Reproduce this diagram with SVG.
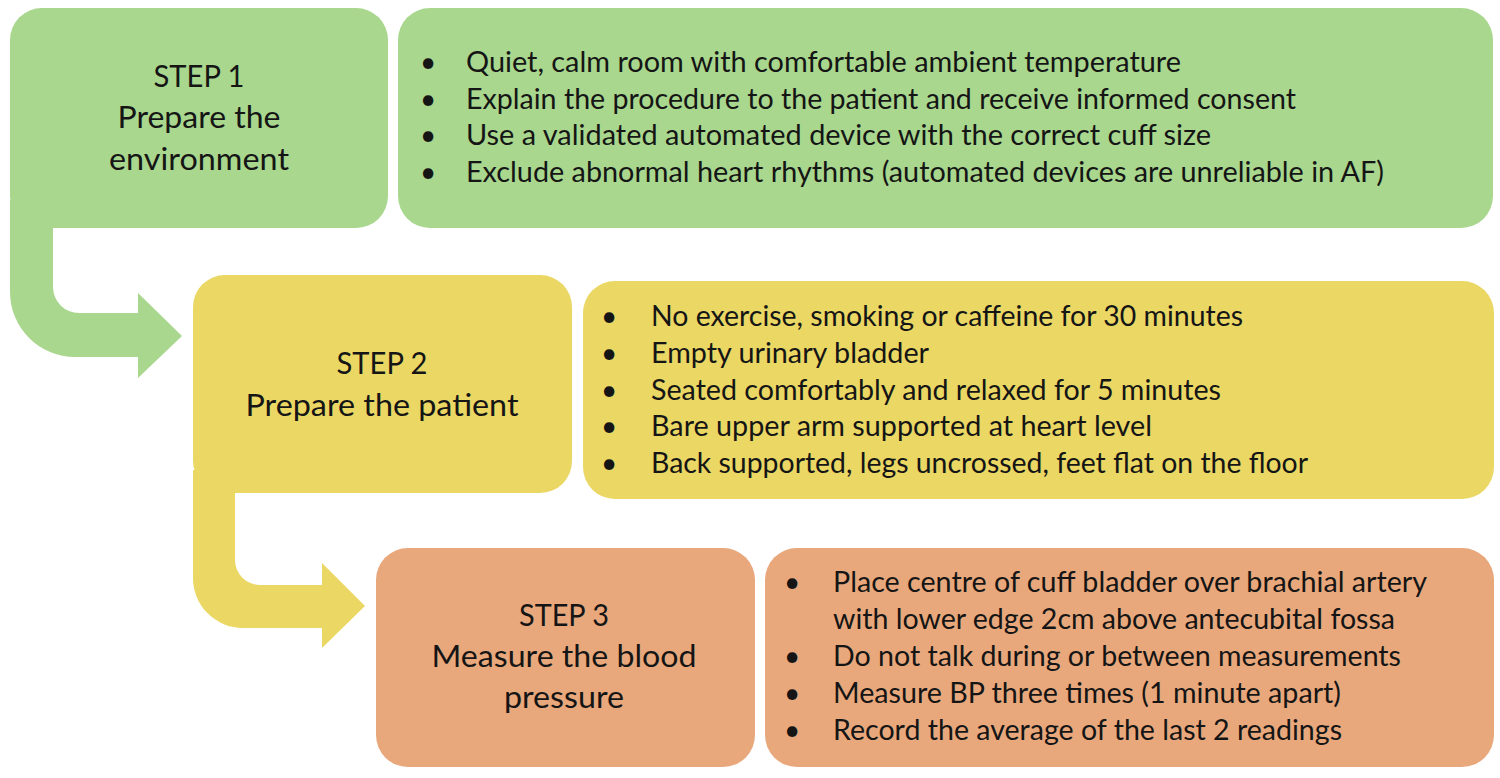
<svg xmlns="http://www.w3.org/2000/svg" width="1500" height="778" viewBox="0 0 1500 778">
<style>
.g{fill:#A9D78E}
.y{fill:#EAD764}
.o{fill:#E8A87C}
.step{font-family:Lato,"Liberation Sans",sans-serif;font-size:31px;fill:#151515;text-anchor:middle}
.b{font-family:Lato,"Liberation Sans",sans-serif;font-size:28px;fill:#151515}
.dot{font-family:Lato,"Liberation Sans",sans-serif;font-size:28px;fill:#151515;text-anchor:middle}
</style>
<rect width="1500" height="778" fill="#ffffff"/>
<g id="connectors">
<path class="g" d="M 10 200 L 53 200 L 53 287 A 26 26 0 0 0 79 313 L 138 313 L 138 293 L 182 336 L 138 378 L 138 357 L 75 357 A 65 65 0 0 1 10 292 Z"/>
<path class="y" d="M 193 470 L 235 470 L 235 560 A 25 25 0 0 0 260 585 L 322 585 L 322 563 L 365 606 L 322 648 L 322 628 L 243 628 A 50 50 0 0 1 193 578 Z"/>
</g>
<g id="step1">
<rect class="g" x="10" y="8" width="378" height="220" rx="32"/>
<text class="step" x="199" y="87" textLength="91" lengthAdjust="spacingAndGlyphs">STEP 1</text>
<text class="step" x="199" y="128" textLength="163" lengthAdjust="spacingAndGlyphs">Prepare the</text>
<text class="step" x="199" y="170" textLength="180" lengthAdjust="spacingAndGlyphs">environment</text>
</g>
<g id="step1-details">
<rect class="g" x="398" y="8" width="1095" height="220" rx="32"/>
<text class="dot" x="428" y="72">•</text>
<text class="dot" x="428" y="108.6">•</text>
<text class="dot" x="428" y="145.2">•</text>
<text class="dot" x="428" y="181.8">•</text>
<text class="b" x="466" y="72" textLength="715" lengthAdjust="spacingAndGlyphs">Quiet, calm room with comfortable ambient temperature</text>
<text class="b" x="466" y="108.6" textLength="830" lengthAdjust="spacingAndGlyphs">Explain the procedure to the patient and receive informed consent</text>
<text class="b" x="466" y="145.2" textLength="745" lengthAdjust="spacingAndGlyphs">Use a validated automated device with the correct cuff size</text>
<text class="b" x="466" y="181.8" textLength="918" lengthAdjust="spacingAndGlyphs">Exclude abnormal heart rhythms (automated devices are unreliable in AF)</text>
</g>
<g id="step2">
<rect class="y" x="193" y="275" width="379" height="218" rx="32"/>
<text class="step" x="382" y="374" textLength="91" lengthAdjust="spacingAndGlyphs">STEP 2</text>
<text class="step" x="382" y="415.5" textLength="273" lengthAdjust="spacingAndGlyphs">Prepare the patient</text>
</g>
<g id="step2-details">
<rect class="y" x="583" y="281" width="911" height="218" rx="32"/>
<text class="dot" x="609" y="326">•</text>
<text class="dot" x="609" y="362.8">•</text>
<text class="dot" x="609" y="399.5">•</text>
<text class="dot" x="609" y="436.2">•</text>
<text class="dot" x="609" y="473">•</text>
<text class="b" x="651" y="326" textLength="592" lengthAdjust="spacingAndGlyphs">No exercise, smoking or caffeine for 30 minutes</text>
<text class="b" x="651" y="362.8" textLength="278" lengthAdjust="spacingAndGlyphs">Empty urinary bladder</text>
<text class="b" x="651" y="399.5" textLength="570" lengthAdjust="spacingAndGlyphs">Seated comfortably and relaxed for 5 minutes</text>
<text class="b" x="651" y="436.2" textLength="501" lengthAdjust="spacingAndGlyphs">Bare upper arm supported at heart level</text>
<text class="b" x="651" y="473" textLength="657" lengthAdjust="spacingAndGlyphs">Back supported, legs uncrossed, feet flat on the floor</text>
</g>
<g id="step3">
<rect class="o" x="376" y="548" width="379" height="219" rx="32"/>
<text class="step" x="564" y="626" textLength="90" lengthAdjust="spacingAndGlyphs">STEP 3</text>
<text class="step" x="564" y="667" textLength="265" lengthAdjust="spacingAndGlyphs">Measure the blood</text>
<text class="step" x="564" y="708" textLength="120" lengthAdjust="spacingAndGlyphs">pressure</text>
</g>
<g id="step3-details">
<rect class="o" x="765" y="548" width="729" height="219" rx="32"/>
<text class="dot" x="792" y="592">•</text>
<text class="dot" x="792" y="666">•</text>
<text class="dot" x="792" y="703">•</text>
<text class="dot" x="792" y="740">•</text>
<text class="b" x="833" y="592" textLength="594" lengthAdjust="spacingAndGlyphs">Place centre of cuff bladder over brachial artery</text>
<text class="b" x="833" y="629" textLength="562" lengthAdjust="spacingAndGlyphs">with lower edge 2cm above antecubital fossa</text>
<text class="b" x="833" y="666" textLength="568" lengthAdjust="spacingAndGlyphs">Do not talk during or between measurements</text>
<text class="b" x="833" y="703" textLength="508" lengthAdjust="spacingAndGlyphs">Measure BP three times (1 minute apart)</text>
<text class="b" x="833" y="740" textLength="509" lengthAdjust="spacingAndGlyphs">Record the average of the last 2 readings</text>
</g>
</svg>
